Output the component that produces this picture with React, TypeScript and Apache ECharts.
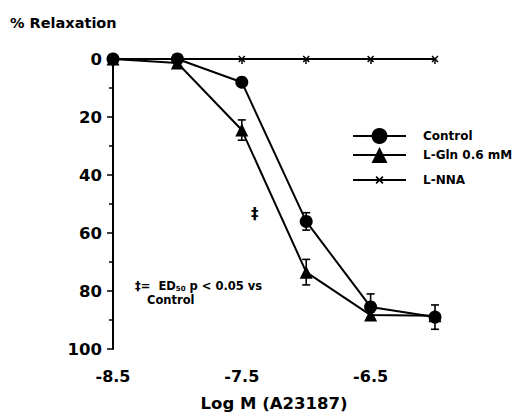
import React, { useEffect, useRef } from "react";
import * as echarts from "echarts";

const xValues = [-8.5, -8, -7.5, -7, -6.5, -6];
const controlValues = [0, 0, 8, 56, 85.5, 89];
const controlErr = [0, 0, 0, 3, 4.5, 4.2];
const glnValues = [0, 1.4, 24.5, 73.5, 88.3, 88.5];
const glnErr = [0, 0, 3.5, 4.4, 1, 0];
const lnnaValues = [0, 0, 0, 0, 0, 0];
const xTickLabels = ["-8.5", "-7.5", "-6.5"];
const seriesNames = ["Control", "L-Gln 0.6 mM", "L-NNA"];

const FONT = "DejaVu Sans";
const X_MARK =
  "path://M0,1.5L1.5,0L5,3.5L8.5,0L10,1.5L6.5,5L10,8.5L8.5,10L5,6.5L1.5,10L0,8.5L3.5,5Z";

function errorSeries(vals: number[], errs: number[]) {
  return {
    type: "custom",
    silent: true,
    z: 5,
    encode: { x: 0, y: 1 },
    data: xValues.map((x, i) => [x, vals[i], errs[i]]),
    renderItem: (params: any, api: any) => {
      const x = api.value(0);
      const y = api.value(1);
      const e = api.value(2);
      if (!e) return null;
      const top = api.coord([x, y - e]);
      const bot = api.coord([x, y + e]);
      const cw = 4;
      const st = { stroke: "#000", lineWidth: 1.6 };
      return {
        type: "group",
        children: [
          { type: "line", shape: { x1: top[0], y1: top[1], x2: bot[0], y2: bot[1] }, style: st },
          { type: "line", shape: { x1: top[0] - cw, y1: top[1], x2: top[0] + cw, y2: top[1] }, style: st },
          { type: "line", shape: { x1: bot[0] - cw, y1: bot[1], x2: bot[0] + cw, y2: bot[1] }, style: st },
        ],
      };
    },
  };
}

export default function App() {
  const ref = useRef<HTMLDivElement>(null);
  useEffect(() => {
    if (!ref.current) return;
    const chart = echarts.init(ref.current, null, { renderer: "svg" });
    const legendText = { fontFamily: FONT, fontWeight: "bold", fontSize: 12, color: "#000", padding: [0, 0, 0, 12] };
    const legendBase = {
      orient: "vertical",
      left: 352,
      padding: 0,
      itemWidth: 53,
      itemHeight: 20,
      selectedMode: false,
      textStyle: legendText,
    };
    chart.setOption({
      animation: false,
      backgroundColor: "#fff",
      grid: { left: 113, right: 79, top: 59, bottom: 66 },
      xAxis: {
        type: "value",
        min: -8.5,
        max: -6,
        interval: 0.5,
        name: "Log M (A23187)",
        nameLocation: "middle",
        nameGap: 46,
        nameTextStyle: { fontFamily: FONT, fontWeight: "bold", fontSize: 16.5, color: "#000" },
        axisLine: { lineStyle: { color: "#000", width: 2 } },
        axisTick: { show: true, inside: false, length: 5, lineStyle: { color: "#000", width: 1.5 } },
        splitLine: { show: false },
        axisLabel: {
          margin: 19,
          fontFamily: FONT,
          fontWeight: "bold",
          fontSize: 16,
          color: "#000",
          formatter: (v: number) => {
            const s = v.toFixed(1);
            return xTickLabels.indexOf(s) >= 0 ? s : "";
          },
        },
      },
      yAxis: {
        type: "value",
        inverse: true,
        min: 0,
        max: 100,
        interval: 20,
        axisLine: { show: true, lineStyle: { color: "#000", width: 2 } },
        axisTick: { show: true, length: 6, lineStyle: { color: "#000", width: 1.5 } },
        minorTick: { show: true, splitNumber: 2, length: 4, lineStyle: { color: "#000", width: 1.5 } },
        splitLine: { show: false },
        axisLabel: { margin: 11, fontFamily: FONT, fontWeight: "bold", fontSize: 16.5, color: "#000" },
      },
      legend: [
        { ...legendBase, top: 128, data: [seriesNames[0]] },
        { ...legendBase, top: 147, data: [seriesNames[1]] },
        { ...legendBase, top: 174, itemHeight: 10, data: [seriesNames[2]] },
      ],
      graphic: [
        {
          type: "text",
          left: 10,
          top: 15,
          style: { text: "% Relaxation", fontFamily: FONT, fontWeight: "bold", fontSize: 14.5, fill: "#000" },
        },
        {
          type: "text",
          left: 251,
          top: 206,
          style: { text: "‡", fontFamily: FONT, fontWeight: "bold", fontSize: 15, fill: "#000" },
        },
        {
          type: "text",
          left: 135,
          top: 279,
          style: {
            text: "{a|‡=  ED}{s|50}{a| p < 0.05 vs}\n{a|   Control}",
            rich: {
              a: { fontFamily: FONT, fontWeight: "bold", fontSize: 11.5, fill: "#000", lineHeight: 14 },
              s: { fontFamily: FONT, fontWeight: "bold", fontSize: 7, fill: "#000", padding: [6, 0, 0, 0], lineHeight: 14 },
            },
          },
        },
      ],
      series: [
        {
          name: seriesNames[0],
          type: "line",
          z: 4,
          data: xValues.map((x, i) => [x, controlValues[i]]),
          symbol: "circle",
          symbolSize: 13,
          lineStyle: { color: "#000", width: 2 },
          itemStyle: { color: "#000" },
        },
        {
          name: seriesNames[1],
          type: "line",
          z: 3,
          data: xValues.map((x, i) => [x, glnValues[i]]),
          symbol: "triangle",
          symbolSize: 13,
          lineStyle: { color: "#000", width: 2 },
          itemStyle: { color: "#000" },
        },
        {
          name: seriesNames[2],
          type: "line",
          z: 2,
          data: xValues.map((x, i) => [x, lnnaValues[i]]),
          symbol: X_MARK,
          symbolSize: 7,
          lineStyle: { color: "#000", width: 1.6 },
          itemStyle: { color: "#000" },
        },
        errorSeries(controlValues, controlErr),
        errorSeries(glnValues, glnErr),
      ],
    });
    return () => chart.dispose();
  }, []);
  return (
    <div
      ref={ref}
      style={{ position: "fixed", left: 0, top: 0, width: 514, height: 417, background: "#fff" }}
    />
  );
}
